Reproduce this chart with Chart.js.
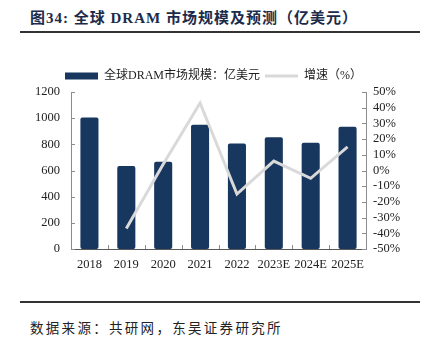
<!DOCTYPE html>
<html><head><meta charset="utf-8">
<script src="https://cdn.jsdelivr.net/npm/chart.js@4/dist/chart.umd.min.js"></script>
<style>
html,body{margin:0;padding:0;background:#fff;}
body{width:427px;height:344px;position:relative;overflow:hidden;}
#title{position:absolute;left:30px;top:6px;font:bold 15px 'Liberation Serif','Noto Sans CJK SC';color:#1c2b4a;white-space:nowrap;letter-spacing:1px;}
.rule{position:absolute;left:20px;width:400px;height:2px;background:#333;}
#src{position:absolute;left:30px;top:317px;font:13.5px 'Noto Sans CJK SC';color:#222;white-space:nowrap;letter-spacing:2.3px;}
#wrap{position:absolute;left:0;top:60px;width:427px;height:222px;}
</style></head>
<body>
<div id="title">图34:&nbsp;全球 DRAM 市场规模及预测（亿美元）</div>
<div class="rule" style="top:31px"></div>
<div id="wrap"><canvas id="c"></canvas></div>
<div class="rule" style="top:301px"></div>
<div id="src">数据来源：共研网，东吴证券研究所</div>
<script>
const categories = ['2018','2019','2020','2021','2022','2023E','2024E','2025E'];
const marketSize = [1006, 635, 666, 949, 806, 855, 812, 934];
const growthRate = [null, -37, 4, 43, -15, 6, -5, 15];
const leftTicks = [0, 200, 400, 600, 800, 1000, 1200];
const rightTicks = [-50, -40, -30, -20, -10, 0, 10, 20, 30, 40, 50];

const tickFont = {family: "'Liberation Serif'", size: 12.5};
const axisColor = '#8c8c8c';

const innerTicks = {
  id: 'innerTicks',
  afterDraw(chart) {
    const ctx = chart.ctx;
    const {x, y, y1} = chart.scales;
    ctx.save();
    ctx.strokeStyle = axisColor;
    ctx.lineWidth = 1;
    ctx.beginPath();
    y.ticks.forEach((t, i) => {
      const py = Math.round(y.getPixelForTick(i)) + 0.5;
      ctx.moveTo(y.right, py); ctx.lineTo(y.right + 4, py);
    });
    y1.ticks.forEach((t, i) => {
      const py = Math.round(y1.getPixelForTick(i)) + 0.5;
      ctx.moveTo(y1.left, py); ctx.lineTo(y1.left - 4, py);
    });
    for (let i = 0; i < x.ticks.length - 1; i++) {
      const px = Math.round((x.getPixelForTick(i) + x.getPixelForTick(i + 1)) / 2) + 0.5;
      ctx.moveTo(px, x.top); ctx.lineTo(px, x.top - 4);
    }
    ctx.stroke();
    ctx.restore();
  }
};

new Chart(document.getElementById('c'), {
  type: 'bar',
  data: {
    labels: categories,
    datasets: [
      {
        type: 'bar',
        label: '全球DRAM市场规模：亿美元',
        data: marketSize,
        backgroundColor: '#17375e',
        borderWidth: 0,
        borderRadius: 2,
        borderSkipped: false,
        barPercentage: 0.49,
        categoryPercentage: 1,
        yAxisID: 'y',
        order: 2
      },
      {
        type: 'line',
        label: '增速（%）',
        data: growthRate,
        borderColor: '#d9d9d9',
        backgroundColor: '#d9d9d9',
        borderWidth: 3,
        pointRadius: 0,
        tension: 0,
        yAxisID: 'y1',
        order: 1
      }
    ]
  },
  options: {
    responsive: true,
    maintainAspectRatio: false,
    animation: false,
    layout: {padding: {top: 5, bottom: 0, left: 0, right: 0}},
    plugins: {
      tooltip: {enabled: false},
      legend: {
        position: 'top',
        labels: {
          usePointStyle: true,
          pointStyleWidth: 33,
          boxHeight: 7,
          padding: 5,
          color: '#222',
          font: {family: "'Liberation Serif','Noto Sans CJK SC'", size: 12},
          sort: (a, b) => a.datasetIndex - b.datasetIndex,
          generateLabels(chart) {
            const items = Chart.defaults.plugins.legend.labels.generateLabels(chart);
            items.forEach(it => {
              it.pointStyle = it.datasetIndex === 0 ? 'rect' : 'line';
            });
            return items;
          }
        }
      }
    },
    scales: {
      x: {
        grid: {display: false, drawTicks: false},
        border: {display: true, color: '#595959', width: 1},
        ticks: {font: tickFont, color: '#222', padding: 8, maxRotation: 0, autoSkip: false},
        afterFit(s) { s.height = 33; }
      },
      y: {
        position: 'left',
        min: 0, max: 1200,
        afterBuildTicks(s) { s.ticks = leftTicks.map(v => ({value: v})); },
        grid: {display: false, drawTicks: false},
        border: {display: true, color: axisColor, width: 1},
        ticks: {font: tickFont, color: '#222', padding: 11, autoSkip: false, callback: v => String(v)},
        afterFit(s) { s.width = 71; }
      },
      y1: {
        position: 'right',
        min: -50, max: 50,
        afterBuildTicks(s) { s.ticks = rightTicks.map(v => ({value: v})); },
        grid: {display: false, drawTicks: false},
        border: {display: true, color: axisColor, width: 1},
        ticks: {font: tickFont, color: '#222', padding: 7, autoSkip: false, callback: v => v + '%'},
        afterFit(s) { s.width = 61; }
      }
    }
  },
  plugins: [innerTicks]
});
</script>
</body></html>
